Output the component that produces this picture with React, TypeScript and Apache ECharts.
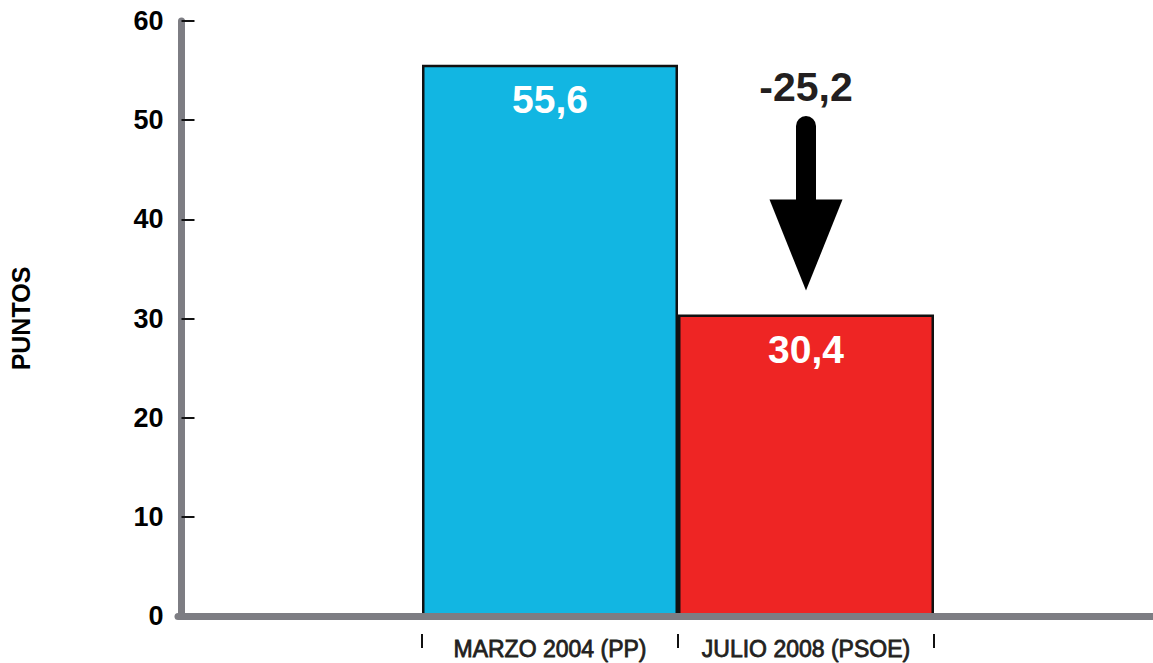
import React, { useEffect, useRef } from "react";
import * as echarts from "echarts";

const CATEGORIES = ["MARZO 2004 (PP)", "JULIO 2008 (PSOE)"];
const VALUES = [55.6, 30.4];
const BAR_COLORS = ["#12B6E2", "#EE2524"];
const Y_TICKS_MIN = 0;
const Y_TICKS_MAX = 60;
const Y_INTERVAL = 10;
const Y_NAME = "PUNTOS";
const DIFF_LABEL = "-25,2";
const ARROW_FROM = 49.4;
const ARROW_TO = 37.4;

const FONT = "'Liberation Sans', Arial, Helvetica, sans-serif";

export default function App() {
  const ref = useRef<HTMLDivElement>(null);
  useEffect(() => {
    if (!ref.current) return;
    const chart = echarts.init(ref.current, null, { renderer: "svg" });
    const fmt = (v: number) => v.toFixed(1).replace(".", ",");
    chart.setOption({
      animation: false,
      backgroundColor: "#ffffff",
      grid: [
        { left: 422, right: 219, top: 21, bottom: 47, containLabel: false },
        { left: 178, right: 0, top: 21, bottom: 47, containLabel: false },
      ],
      xAxis: [
        {
          type: "category",
          gridIndex: 0,
          data: CATEGORIES,
          offset: 18,
          axisLine: { show: false, onZero: false },
          axisTick: {
            show: true,
            interval: 0,
            length: 14,
            lineStyle: { color: "#111", width: 2 },
          },
          axisLabel: {
            interval: 0,
            margin: 3,
            fontSize: 23,
            fontFamily: FONT,
            color: "#231F20",
            textBorderColor: "#231F20",
            textBorderWidth: 0.8,
          },
        },
        {
          type: "value",
          gridIndex: 1,
          z: 5,
          axisLine: { show: true, onZero: false, lineStyle: { color: "#7D7D83", width: 7 } },
          axisTick: { show: false },
          axisLabel: { show: false },
          splitLine: { show: false },
        },
      ],
      yAxis: [
        {
          type: "value",
          gridIndex: 0,
          min: Y_TICKS_MIN,
          max: Y_TICKS_MAX,
          interval: Y_INTERVAL,
          offset: 240.5,
          name: Y_NAME,
          nameLocation: "middle",
          nameRotate: 90,
          nameGap: 148,
          nameTextStyle: {
            fontSize: 25,
            fontWeight: "bold",
            fontFamily: FONT,
            color: "#000",
          },
          axisLine: { show: true, onZero: false, lineStyle: { color: "#7D7D83", width: 7 } },
          axisTick: {
            show: true,
            inside: true,
            length: 13,
            lineStyle: { color: "#111", width: 2 },
          },
          axisLabel: {
            margin: 18,
            fontSize: 27,
            fontWeight: "bold",
            fontFamily: FONT,
            color: "#000",
          },
          splitLine: { show: false },
        },
        {
          type: "value",
          gridIndex: 1,
          show: false,
          min: Y_TICKS_MIN,
          max: Y_TICKS_MAX,
        },
      ],
      series: [
        {
          type: "bar",
          xAxisIndex: 0,
          yAxisIndex: 0,
          barCategoryGap: "0%",
          data: VALUES.map((v, i) => ({
            value: v,
            itemStyle: {
              color: BAR_COLORS[i],
              borderColor: "#111",
              borderWidth: 2.5,
            },
          })),
          label: {
            show: true,
            position: "insideTop",
            distance: 15,
            formatter: (p: any) => fmt(p.value),
            fontSize: 39,
            fontWeight: "bold",
            fontFamily: FONT,
            color: "#ffffff",
          },
          markLine: {
            silent: true,
            symbol: ["none", "triangle"],
            symbolSize: [73, 91],
            lineStyle: { color: "#000", width: 20, type: "solid", cap: "round" },
            label: {
              show: true,
              position: "start",
              distance: 19,
              formatter: DIFF_LABEL,
              fontSize: 41,
              fontWeight: "bold",
              fontFamily: FONT,
              color: "#231F20",
            },
            data: [
              [
                { coord: [1, ARROW_FROM] },
                { coord: [1, ARROW_TO] },
              ],
            ],
          },
        },
      ],
    });
    return () => chart.dispose();
  }, []);
  return (
    <div
      ref={ref}
      style={{ position: "fixed", left: 0, top: 0, width: 1153, height: 663 }}
    />
  );
}
